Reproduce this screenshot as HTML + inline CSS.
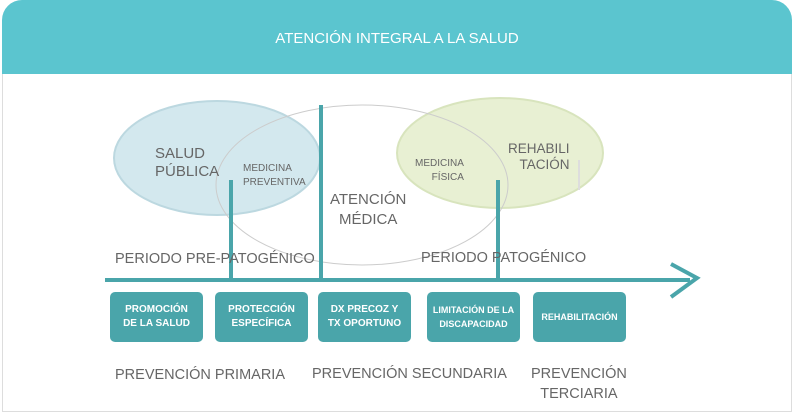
<!DOCTYPE html>
<html><head><meta charset="utf-8"><style>
body{margin:0;width:794px;height:416px;background:#fff;overflow:hidden;font-family:"Liberation Sans","DejaVu Sans",sans-serif;position:relative}
.hdr{position:absolute;left:2px;top:0;width:790px;height:74px;background:#5bc5cf;border-radius:20px 20px 0 0;color:#fff;font-size:15px;text-align:center;line-height:78px}
.frame{position:absolute;left:2px;top:74px;width:788px;height:337px;border:1px solid #ddd;border-top:none}
.t{position:absolute;color:#666;white-space:nowrap}
.box{position:absolute;top:292px;height:50px;width:93px;background:#4aa5aa;border-radius:5px;color:#fff;font-size:10px;font-weight:bold;display:flex;align-items:center;justify-content:center;text-align:center;line-height:14px}
</style></head><body>
<div class="hdr">ATENCIÓN INTEGRAL A LA SALUD</div>
<div class="frame"></div>
<svg style="position:absolute;left:0;top:0" width="794" height="416">
<ellipse cx="217" cy="158" rx="103" ry="57" fill="#d3e8ee" stroke="#bcd8e0" stroke-width="2"/>
<ellipse cx="500" cy="153" rx="103" ry="55" fill="#e8f0d3" stroke="#d8e4bd" stroke-width="2"/>
<ellipse cx="362" cy="185" rx="146" ry="80" fill="none" stroke="#ccc" stroke-width="1"/>
<rect x="578" y="160" width="2" height="30" fill="#ddd"/>
<rect x="229" y="180" width="4" height="102" fill="#4aa5aa"/>
<rect x="319" y="105" width="4" height="177" fill="#4aa5aa"/>
<rect x="496" y="180" width="4" height="102" fill="#4aa5aa"/>
<rect x="105" y="278" width="585" height="4" fill="#4aa5aa"/>
<polyline points="671,264 697,278 671,297" fill="none" stroke="#4aa5aa" stroke-width="4"/>
</svg>
<div class="t" style="left:155px;top:145px;font-size:15px;line-height:18px">SALUD<br>PÚBLICA</div>
<div class="t" style="left:243px;top:162px;font-size:10px;line-height:14px">MEDICINA<br>PREVENTIVA</div>
<div class="t" style="left:330px;top:190px;font-size:15px;line-height:20px;text-align:center">ATENCIÓN<br>MÉDICA</div>
<div class="t" style="left:415px;top:157px;font-size:10px;line-height:14px;text-align:right">MEDICINA<br>&nbsp;&nbsp;&nbsp;&nbsp;FÍSICA</div>
<div class="t" style="left:508px;top:141px;font-size:13.5px;line-height:16px;text-align:right">REHABILI<br>TACIÓN</div>
<div class="t" style="left:115px;top:251px;font-size:14.5px">PERIODO PRE-PATOGÉNICO</div>
<div class="t" style="left:421px;top:250px;font-size:14.5px">PERIODO PATOGÉNICO</div>
<div class="box" style="left:110px">PROMOCIÓN<br>DE LA SALUD</div>
<div class="box" style="left:215px">PROTECCIÓN<br>ESPECÍFICA</div>
<div class="box" style="left:318px">DX PRECOZ Y<br>TX OPORTUNO</div>
<div class="box" style="left:427px;font-size:9px">LIMITACIÓN DE LA<br>DISCAPACIDAD</div>
<div class="box" style="left:533px;font-size:9px">REHABILITACIÓN</div>
<div class="t" style="left:115px;top:367px;font-size:14.5px">PREVENCIÓN PRIMARIA</div>
<div class="t" style="left:312px;top:366px;font-size:14.5px">PREVENCIÓN SECUNDARIA</div>
<div class="t" style="left:531px;top:364px;font-size:14.5px;line-height:20px;text-align:center">PREVENCIÓN<br>TERCIARIA</div>
</body></html>
